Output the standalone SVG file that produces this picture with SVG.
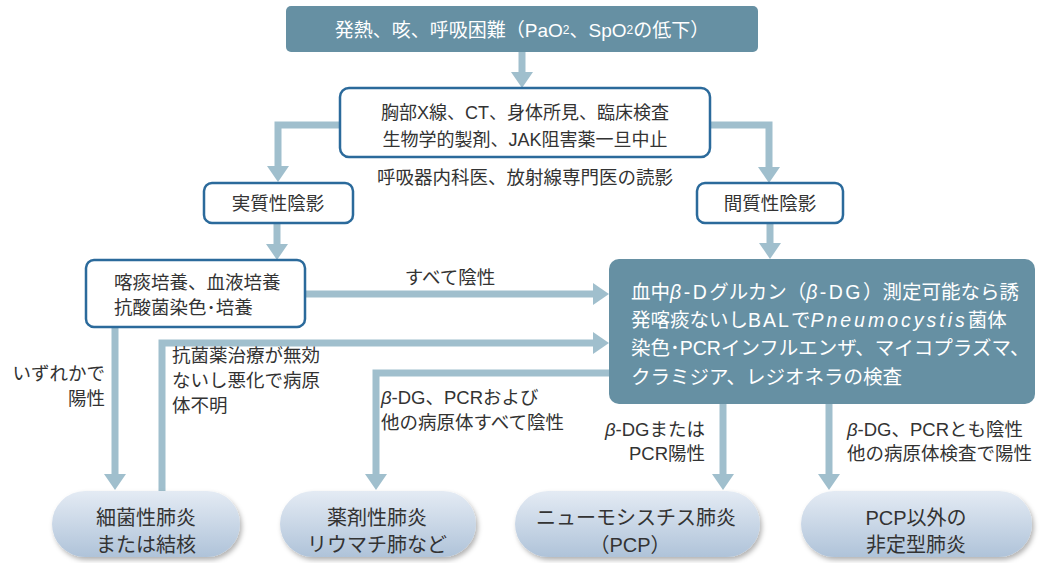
<svg xmlns="http://www.w3.org/2000/svg" width="1040" height="563" viewBox="0 0 1040 563">
<defs>
<style>
text{font-family:"Liberation Sans","Noto Sans CJK JP","Noto Sans",sans-serif;fill:#333;dominant-baseline:central}
.w{fill:#fff}
.c{text-anchor:middle}
.r{text-anchor:end}
.lb{font-size:18.5px}
.dark{fill:#6690a3}
.box{fill:#fff;stroke:#2b6a9b;stroke-width:2.5}
.pill{fill:url(#pg);filter:url(#sh)}
.pt{font-size:20px;text-anchor:middle}
.con{fill:none;stroke:#a0bfcd;stroke-width:7;marker-end:url(#ah)}
.i{font-style:italic}
.sp{letter-spacing:2.5px}
</style>
<linearGradient id="pg" x1="0" y1="0" x2="0" y2="1">
<stop offset="0" stop-color="#e4ebf4"/>
<stop offset="1" stop-color="#afc3d9"/>
</linearGradient>
<filter id="sh" x="-10%" y="-20%" width="130%" height="150%">
<feDropShadow dx="2" dy="3" stdDeviation="2.5" flood-color="#000" flood-opacity="0.3"/>
</filter>
<marker id="ah" markerUnits="userSpaceOnUse" viewBox="0 0 16 22" markerWidth="16" markerHeight="22" refX="1" refY="11" orient="auto">
<path d="M0,0 L16,11 L0,22 Z" fill="#a0bfcd"/>
</marker>
</defs>

<g id="connectors">
<path class="con" d="M522,52 V73"/>
<path class="con" d="M340,125 H278 V167"/>
<path class="con" d="M710,125 H769 V168"/>
<path class="con" d="M277,222 V245"/>
<path class="con" d="M770,222 V244"/>
<path class="con" d="M305,294 H594"/>
<path class="con" d="M162,492 V343 H594"/>
<path class="con" d="M612,373 H376 V475"/>
<path class="con" d="M115,327 V475"/>
<path class="con" d="M723,404 V475"/>
<path class="con" d="M829,404 V475"/>
</g>

<g id="n-top">
<rect class="dark" x="286" y="6" width="472" height="46" rx="5"/>
<text class="w c" x="522" y="30" font-size="19">発熱、咳、呼吸困難（PaO<tspan font-size="12">2</tspan>、SpO<tspan font-size="12">2</tspan>の低下）</text>
</g>

<g id="n-exam">
<rect class="box" x="340" y="88" width="370" height="69" rx="9"/>
<text class="c" x="525" y="113" font-size="18">胸部X線、CT、身体所見、臨床検査</text>
<text class="c" x="525" y="140" font-size="18">生物学的製剤、JAK阻害薬一旦中止</text>
</g>
<text id="t-read" class="c lb" x="525" y="177">呼吸器内科医、放射線専門医の読影</text>

<g id="n-jisshitsu">
<rect class="box" x="204" y="183" width="149" height="40" rx="8"/>
<text class="c lb" x="278" y="203">実質性陰影</text>
</g>

<g id="n-kanshitsu">
<rect class="box" x="697" y="183" width="146" height="40" rx="8"/>
<text class="c lb" x="770" y="203">間質性陰影</text>
</g>

<g id="n-culture">
<rect class="box" x="86" y="260" width="219" height="67" rx="8"/>
<text class="lb" x="114" y="282">喀痰培養、血液培養</text>
<text class="lb" x="114" y="307">抗酸菌染色･培養</text>
</g>

<g id="n-big">
<rect class="dark" x="609" y="259" width="426" height="145" rx="10"/>
<text class="w" x="631" y="292" font-size="19.5">血中<tspan class="i sp">β</tspan><tspan class="sp">-D</tspan>グルカン（<tspan class="i sp">β</tspan><tspan class="sp">-DG</tspan>）測定可能なら誘</text>
<text class="w" x="631" y="320" font-size="19.5">発喀痰ないし<tspan letter-spacing="2">BAL</tspan>で<tspan class="i" letter-spacing="3">Pneumocystis</tspan>菌体</text>
<text class="w" x="631" y="348" font-size="19.5">染色･PCRインフルエンザ、マイコプラズマ、</text>
<text class="w" x="631" y="377" font-size="19.5">クラミジア、レジオネラの検査</text>
</g>

<g id="labels">
<text class="c lb" x="450" y="277">すべて陰性</text>
<text class="r lb" x="105" y="373">いずれかで</text>
<text class="r lb" x="105" y="398">陽性</text>
<text class="lb" x="172" y="355">抗菌薬治療が無効</text>
<text class="lb" x="172" y="380">ないし悪化で病原</text>
<text class="lb" x="172" y="405">体不明</text>
<text class="lb" x="381" y="397"><tspan class="i">β</tspan>-DG、PCRおよび</text>
<text class="lb" x="381" y="422">他の病原体すべて陰性</text>
<text class="r lb" x="705" y="429"><tspan class="i">β</tspan>-DGまたは</text>
<text class="r lb" x="705" y="453">PCR陽性</text>
<text class="lb" x="847" y="429"><tspan class="i">β</tspan>-DG、PCRとも陰性</text>
<text class="lb" x="847" y="453">他の病原体検査で陽性</text>
</g>

<g id="n-bacterial">
<rect class="pill" x="52" y="491" width="188" height="66" rx="33"/>
<text class="pt" x="146" y="518">細菌性肺炎</text>
<text class="pt" x="146" y="545">または結核</text>
</g>
<g id="n-drug">
<rect class="pill" x="280" y="491" width="196" height="66" rx="33"/>
<text class="pt" x="377" y="518">薬剤性肺炎</text>
<text class="pt" x="377" y="545">リウマチ肺など</text>
</g>
<g id="n-pcp">
<rect class="pill" x="515" y="491" width="245" height="66" rx="33"/>
<text class="pt" x="636" y="518">ニューモシスチス肺炎</text>
<text class="pt" x="630" y="545">（PCP）</text>
</g>
<g id="n-atypical">
<rect class="pill" x="801" y="491" width="231" height="66" rx="33"/>
<text class="pt" x="916" y="518">PCP以外の</text>
<text class="pt" x="916" y="545">非定型肺炎</text>
</g>
</svg>
